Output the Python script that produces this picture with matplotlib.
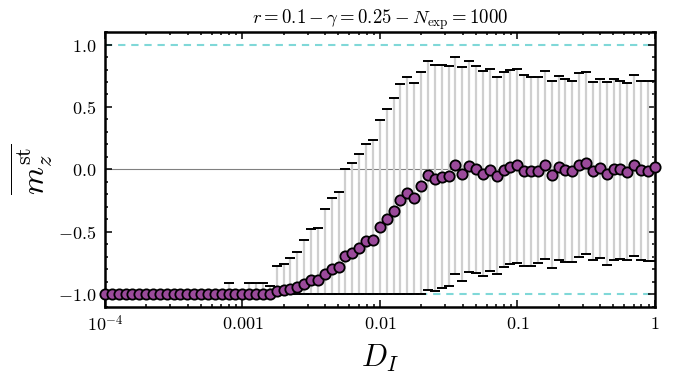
import numpy as np
import matplotlib.pyplot as plt
from matplotlib.ticker import FixedLocator, FixedFormatter, NullFormatter

plt.rcParams["mathtext.fontset"] = "cm"
plt.rcParams["font.family"] = ["DejaVu Serif"]

# noise strength D_I, 20 points per decade
d_i = np.logspace(-4, 0, 81)

# mean stationary magnetisation
m_mean = [-1.0] * 18 + [-0.995] * 7 + [
    -0.973, -0.968, -0.955, -0.94, -0.915, -0.888, -0.888, -0.835, -0.80,
    -0.78, -0.696, -0.67, -0.625, -0.575, -0.563, -0.46, -0.395, -0.333,
    -0.243, -0.19, -0.23, -0.133, -0.048, -0.075, -0.061, -0.056, 0.032,
    -0.04, 0.027, 0.0, -0.035, -0.003, -0.053, -0.003, 0.02, 0.032,
    -0.013, -0.013, -0.013, 0.037, -0.043, 0.019, -0.008, -0.013, 0.032,
    0.051, -0.016, 0.013, -0.04, 0.005, 0.0, -0.021, 0.032, -0.008,
    -0.016, 0.019,
]

# upper end of the spread
m_upper = [-1.0] * 18 + [-0.907, -1.0, -1.0, -0.907, -0.907, -0.907, -0.93] + [
    -0.776, -0.755, -0.712, -0.664, -0.568, -0.48, -0.467, -0.32, -0.229,
    -0.184, 0.003, 0.05, 0.125, 0.205, 0.232, 0.392, 0.485, 0.57, 0.685,
    0.74, 0.69, 0.784, 0.872, 0.837, 0.837, 0.826, 0.898, 0.824, 0.872,
    0.832, 0.792, 0.805, 0.744, 0.778, 0.798, 0.805, 0.757, 0.744, 0.738,
    0.786, 0.712, 0.752, 0.725, 0.712, 0.773, 0.784, 0.704, 0.725, 0.704,
    0.725, 0.712, 0.69, 0.757, 0.712, 0.712, 0.706,
]

# lower end of the spread
m_lower = [-1.0] * 47 + [
    -0.968, -0.971, -0.949, -0.936, -0.835, -0.891, -0.819, -0.829, -0.856,
    -0.813, -0.837, -0.781, -0.76, -0.749, -0.776, -0.771, -0.752, -0.717,
    -0.789, -0.725, -0.741, -0.739, -0.701, -0.677, -0.728, -0.707, -0.765,
    -0.725, -0.717, -0.728, -0.693, -0.725, -0.733, -0.735,
]

m_mean = np.array(m_mean)
m_upper = np.array(m_upper)
m_lower = np.array(m_lower)

fig = plt.figure(figsize=(6.9, 3.86), dpi=100)
ax = fig.add_axes([0.152, 0.205, 0.797, 0.712])

ax.axhline(0, color="#808080", lw=0.8, zorder=1)
for y in (1.0, -1.0):
    ax.axhline(y, color="#80d8d8", lw=1.5, ls=(0, (3.5, 2.8)), zorder=1)

ax.vlines(d_i, m_lower, m_upper, color="#cfcfcf", lw=1.6, zorder=2)
cap_kw = dict(ls="none", marker="_", ms=7, mew=1.4, color="black", zorder=3)
ax.plot(d_i, m_upper, **cap_kw)
ax.plot(d_i, m_lower, **cap_kw)

ax.plot(d_i, m_mean, ls="none", marker="o", ms=7.4, mfc="#9b4a9b",
        mec="black", mew=1.3, zorder=4, clip_on=False)

ax.set_xscale("log")
ax.set_xlim(1e-4, 1)
ax.set_ylim(-1.1, 1.1)

x_major = [1e-4, 1e-3, 1e-2, 1e-1, 1]
x_labels = [r"$10^{-4}$", r"$0.001$", r"$0.01$", r"$0.1$", r"$1$"]
ax.xaxis.set_major_locator(FixedLocator(x_major))
ax.xaxis.set_major_formatter(FixedFormatter(x_labels))
x_minor = [k * 10.0 ** e for e in range(-4, 0) for k in range(2, 10)]
ax.xaxis.set_minor_locator(FixedLocator(x_minor))
ax.xaxis.set_minor_formatter(NullFormatter())

y_major = [-1.0, -0.5, 0.0, 0.5, 1.0]
y_labels = [r"$-1.0$", r"$-0.5$", r"$0.0$", r"$0.5$", r"$1.0$"]
ax.yaxis.set_major_locator(FixedLocator(y_major))
ax.yaxis.set_major_formatter(FixedFormatter(y_labels))
ax.yaxis.set_minor_locator(FixedLocator(np.arange(-1.1, 1.11, 0.1)))

ax.tick_params(which="both", direction="in", top=True, right=True,
               labelsize=13, width=1.1, pad=6)
ax.tick_params(which="major", length=5)
ax.tick_params(which="minor", length=2.5)
for sp in ax.spines.values():
    sp.set_linewidth(1.8)

ax.set_title(r"$r=0.1-\gamma=0.25-N_{\rm exp}=1000$", fontsize=13.5, pad=3)
ax.set_xlabel(r"$D_I$", fontsize=22, labelpad=5)
ax.set_ylabel(r"$\overline{m_z^{\rm st}}$", fontsize=23, labelpad=2)

fig.savefig("out.png", dpi=100)
